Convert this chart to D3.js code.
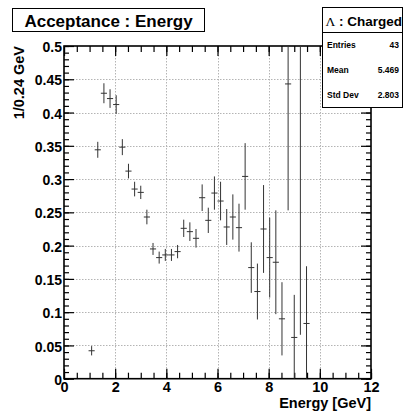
<!DOCTYPE html>
<html>
<head>
<meta charset="utf-8">
<script src="https://cdn.jsdelivr.net/npm/d3@7"></script>
<style>
  body { margin: 0; background: #fff; }
  svg { display: block; }
  text { font-family: "Liberation Sans", Arial, Helvetica, sans-serif; font-weight: bold; fill: #000; }
</style>
</head>
<body>
<svg id="chart" width="403" height="413"></svg>
<script>
// Histogram bins (centres, GeV), contents and errors
const binCenters = [1.08, 1.32, 1.56, 1.80, 2.04, 2.28, 2.52, 2.76, 3.00, 3.24, 3.48, 3.72,
  3.96, 4.20, 4.44, 4.68, 4.92, 5.16, 5.40, 5.64, 5.88, 6.12, 6.36, 6.60, 6.84, 7.08,
  7.32, 7.56, 7.80, 8.04, 8.28, 8.52, 8.76, 9.00, 9.24, 9.48];
const acceptance = [0.042, 0.344, 0.429, 0.421, 0.412, 0.348, 0.312, 0.285, 0.280, 0.243, 0.195, 0.182,
  0.186, 0.186, 0.191, 0.226, 0.221, 0.211, 0.272, 0.238, 0.279, 0.267, 0.228, 0.243, 0.227, 0.304,
  0.167, 0.131, 0.225, 0.182, 0.175, 0.090, 0.443, 0.062, 0.560, 0.083];
const errors = [0.007, 0.012, 0.015, 0.014, 0.014, 0.012, 0.011, 0.011, 0.010, 0.011, 0.009, 0.009,
  0.009, 0.009, 0.010, 0.013, 0.014, 0.014, 0.020, 0.019, 0.025, 0.029, 0.027, 0.034, 0.036, 0.050,
  0.038, 0.042, 0.066, 0.060, 0.078, 0.055, 0.190, 0.064, 0.494, 0.086];
const binWidth = 0.24;

// Axis ticks and labels
const xTicks = [0, 2, 4, 6, 8, 10, 12];
const xTickLabels = ["0", "2", "4", "6", "8", "10", "12"];
const yTicks = [0, 0.05, 0.1, 0.15, 0.2, 0.25, 0.3, 0.35, 0.4, 0.45, 0.5];
const yTickLabels = ["0", "0.05", "0.1", "0.15", "0.2", "0.25", "0.3", "0.35", "0.4", "0.45", "0.5"];

// Titles and statistics box
const chartTitle = "Acceptance : Energy";
const xTitle = "Energy [GeV]";
const yTitle = "1/0.24 GeV";
const statsName = ": Charged";
const statsLabels = ["Entries", "Mean", "Std Dev"];
const statsValues = ["43", "5.469", "2.803"];

const frame = { left: 64, right: 371, top: 46, bottom: 378.7 };
const svg = d3.select("#chart");

const x = d3.scaleLinear().domain([0, 12]).range([frame.left, frame.right]);
const y = d3.scaleLinear().domain([0, 0.5]).range([frame.bottom, frame.top]);

const minorX = d3.range(0, 12.001, 0.5);
const minorY = d3.range(0, 0.5001, 0.01);

// Dotted grid at the major ticks
const grid = svg.append("g").attr("stroke", "#b4b4b4").attr("stroke-width", 1)
  .attr("stroke-dasharray", "1.5,1.5");
grid.selectAll("line.gx").data(xTicks.slice(1, -1)).join("line")
  .attr("x1", d => Math.round(x(d)) + 0.5).attr("x2", d => Math.round(x(d)) + 0.5)
  .attr("y1", frame.top).attr("y2", frame.bottom);
grid.selectAll("line.gy").data(yTicks.slice(1, -1)).join("line")
  .attr("x1", frame.left).attr("x2", frame.right)
  .attr("y1", d => Math.round(y(d)) + 0.5).attr("y2", d => Math.round(y(d)) + 0.5);

// Axes with ticks pointing into the frame on all four sides
function styleAxis(g) {
  g.select(".domain").remove();
  g.selectAll(".tick line").attr("stroke", "#000").attr("stroke-width", 1.2);
}
const fmtY = d => yTickLabels[yTicks.indexOf(d)];
const fmtX = d => xTickLabels[xTicks.indexOf(d)];

svg.append("g").attr("transform", `translate(${frame.left},0)`)
  .call(d3.axisLeft(y).tickValues(minorY).tickSize(-5).tickFormat(""))
  .call(styleAxis);
svg.append("g").attr("transform", `translate(${frame.left},0)`)
  .call(d3.axisLeft(y).tickValues(yTicks).tickSize(-10).tickPadding(2).tickFormat(fmtY))
  .call(styleAxis)
  .call(g => g.selectAll("text").attr("font-size", 14).attr("dy", "0.4em"));

svg.append("g").attr("transform", `translate(${frame.right},0)`)
  .call(d3.axisRight(y).tickValues(minorY).tickSize(-5).tickFormat(""))
  .call(styleAxis);
svg.append("g").attr("transform", `translate(${frame.right},0)`)
  .call(d3.axisRight(y).tickValues(yTicks).tickSize(-10).tickFormat(""))
  .call(styleAxis);

svg.append("g").attr("transform", `translate(0,${frame.bottom})`)
  .call(d3.axisBottom(x).tickValues(minorX).tickSize(-6).tickFormat(""))
  .call(styleAxis);
svg.append("g").attr("transform", `translate(0,${frame.bottom})`)
  .call(d3.axisBottom(x).tickValues(xTicks).tickSize(-10).tickPadding(3).tickFormat(fmtX))
  .call(styleAxis)
  .call(g => g.selectAll("text").attr("font-size", 14.5));

svg.append("g").attr("transform", `translate(0,${frame.top})`)
  .call(d3.axisTop(x).tickValues(minorX).tickSize(-6).tickFormat(""))
  .call(styleAxis);
svg.append("g").attr("transform", `translate(0,${frame.top})`)
  .call(d3.axisTop(x).tickValues(xTicks).tickSize(-10).tickFormat(""))
  .call(styleAxis);

// Frame
svg.append("rect")
  .attr("x", frame.left).attr("y", frame.top)
  .attr("width", frame.right - frame.left).attr("height", frame.bottom - frame.top)
  .attr("fill", "none").attr("stroke", "#000").attr("stroke-width", 1.6);

// Error-bar markers, clipped to the frame
svg.append("clipPath").attr("id", "plotClip").append("rect")
  .attr("x", frame.left).attr("y", frame.top)
  .attr("width", frame.right - frame.left).attr("height", frame.bottom - frame.top);

const pts = binCenters.map((c, i) => ({ c, v: acceptance[i], e: errors[i] }));
const marks = svg.append("g").attr("clip-path", "url(#plotClip)")
  .attr("stroke", "#333").attr("stroke-width", 1);
marks.selectAll("line.h").data(pts).join("line")
  .attr("x1", d => x(d.c - binWidth / 2)).attr("x2", d => x(d.c + binWidth / 2))
  .attr("y1", d => y(d.v)).attr("y2", d => y(d.v));
marks.selectAll("line.v").data(pts).join("line")
  .attr("x1", d => x(d.c)).attr("x2", d => x(d.c))
  .attr("y1", d => y(Math.max(0, d.v - d.e))).attr("y2", d => y(d.v + d.e));

// Axis titles
svg.append("text").attr("x", frame.right).attr("y", 408)
  .attr("text-anchor", "end").attr("font-size", 14.5).text(xTitle);
svg.append("text").attr("transform", `translate(24,${frame.top}) rotate(-90)`)
  .attr("text-anchor", "end").attr("font-size", 14.5).text(yTitle);

// Title box
svg.append("rect").attr("x", 12.5).attr("y", 8.5).attr("width", 192).attr("height", 23)
  .attr("fill", "#fff").attr("stroke", "#000").attr("stroke-width", 1);
svg.append("text").attr("x", 108.5).attr("y", 26.5).attr("text-anchor", "middle")
  .attr("font-size", 17).text(chartTitle);

// Statistics box
const sb = { x: 322.5, y: 7.5, w: 80, h: 100, head: 25 };
svg.append("rect").attr("x", sb.x).attr("y", sb.y).attr("width", sb.w).attr("height", sb.h)
  .attr("fill", "#fff").attr("stroke", "#000").attr("stroke-width", 1);
svg.append("line").attr("x1", sb.x).attr("x2", sb.x + sb.w)
  .attr("y1", sb.y + sb.head).attr("y2", sb.y + sb.head).attr("stroke", "#000");
const head = svg.append("text").attr("x", 325.5).attr("y", sb.y + 18).attr("font-size", 13.5);
head.append("tspan").attr("font-family", "'Liberation Serif', 'Times New Roman', serif")
  .attr("font-weight", "normal").text("\u039B");
head.append("tspan").text(" " + statsName);

const rowH = (sb.h - sb.head) / statsLabels.length;
statsLabels.forEach((lab, i) => {
  const cy = sb.y + sb.head + rowH * (i + 0.5);
  svg.append("text").attr("x", 327).attr("y", cy).attr("dy", "0.35em")
    .attr("font-size", 8.5).text(lab);
  svg.append("text").attr("x", 399).attr("y", cy).attr("dy", "0.35em")
    .attr("text-anchor", "end").attr("font-size", 8.5).text(statsValues[i]);
});
</script>
</body>
</html>
